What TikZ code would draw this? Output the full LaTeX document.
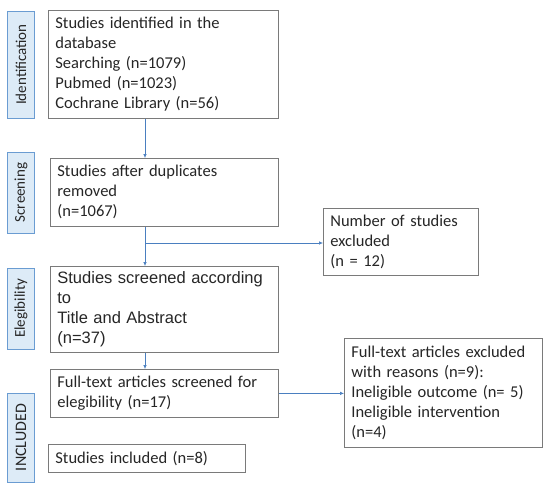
\documentclass[tikz,border=0pt]{standalone}
\usepackage{fontspec}
\setmainfont{Carlito}
\newfontfamily\arialfont{Liberation Sans}
\usetikzlibrary{arrows.meta,calc}
\definecolor{labfill}{HTML}{DDEBF7}
\definecolor{labdraw}{HTML}{6A9CD2}
\definecolor{arrcol}{HTML}{4A7FC0}
\definecolor{boxdraw}{HTML}{7A7A7A}
\definecolor{txt}{HTML}{262626}
\begin{document}
\begin{tikzpicture}[x=1pt,y=-1pt,
  box/.style={draw=boxdraw, line width=0.8pt, fill=white, align=left, anchor=north west,
    inner xsep=7pt, inner ysep=0pt, text=txt, font=\fontsize{16.5}{20}\selectfont},
  lab/.style={draw=labdraw, line width=0.8pt, fill=labfill, rotate=90, inner sep=0pt,
    minimum height=27pt, text=txt, font=\fontsize{15}{18}\selectfont},
  arr/.style={draw=arrcol, line width=0.6pt, -{Latex[length=4pt,width=3.5pt]}},
  ln/.style={draw=arrcol, line width=0.6pt}]
\useasboundingbox (0,0) rectangle (550,491);
% side labels
\node[lab, minimum width=107pt] (lid) at (21,64.5) {Identification};
\node[lab, minimum width=81pt] (lsc) at (21,192.5) {Screening};
\node[lab, minimum width=81pt] (lel) at (21,308.5) {Elegibility};
\node[lab, minimum width=89pt, font=\fontsize{16}{18}\selectfont] (lin) at (21,437.5) {INCLUDED};
% main boxes
\node[box, text width=216pt, minimum height=108pt] (b1) at (48,10)
  {Studies identified in the\\database\\Searching (n=1079)\\Pubmed (n=1023)\\Cochrane Library (n=56)};
\node[box, text width=214pt, minimum height=68pt] (b2) at (50,158)
  {Studies after duplicates\\removed\\(n=1067)};
\node[box, text width=214pt, minimum height=86pt, font=\arialfont\fontsize{16.5}{20}\selectfont] (b3) at (50,266)
  {Studies screened according\\to\\Title and Abstract\\(n=37)};
\node[box, text width=214pt, minimum height=48pt] (b4) at (50,369)
  {Full-text articles screened for\\elegibility (n=17)};
\node[box, text width=183pt, minimum height=28pt] (b5) at (48,444)
  {Studies included (n=8)};
% side boxes
\node[box, text width=141pt, minimum height=67pt] (ex1) at (323,208)
  {Number of studies\\excluded\\(n = 12)};
\node[box, text width=184pt, minimum height=109pt] (ex2) at (344,338)
  {Full-text articles excluded\\with reasons (n=9):\\Ineligible outcome (n= 5)\\Ineligible intervention\\(n=4)};
% connectors
\coordinate (c1) at ($(b1.south west)+(97,0)$);
\draw[arr] (c1) -- (c1 |- b2.north);
\coordinate (c2) at (c1 |- b2.south);
\coordinate (j1) at (145,243);
\draw[arr] (c2) -- (c2 |- b3.north);
\draw[arr] (j1) -- (j1 -| ex1.west);
\coordinate (c3) at (c1 |- b3.south);
\draw[arr] (c3) -- (c3 |- b4.north);
\draw[arr] (b4.east) -- (b4.east -| ex2.west);
\end{tikzpicture}
\end{document}
